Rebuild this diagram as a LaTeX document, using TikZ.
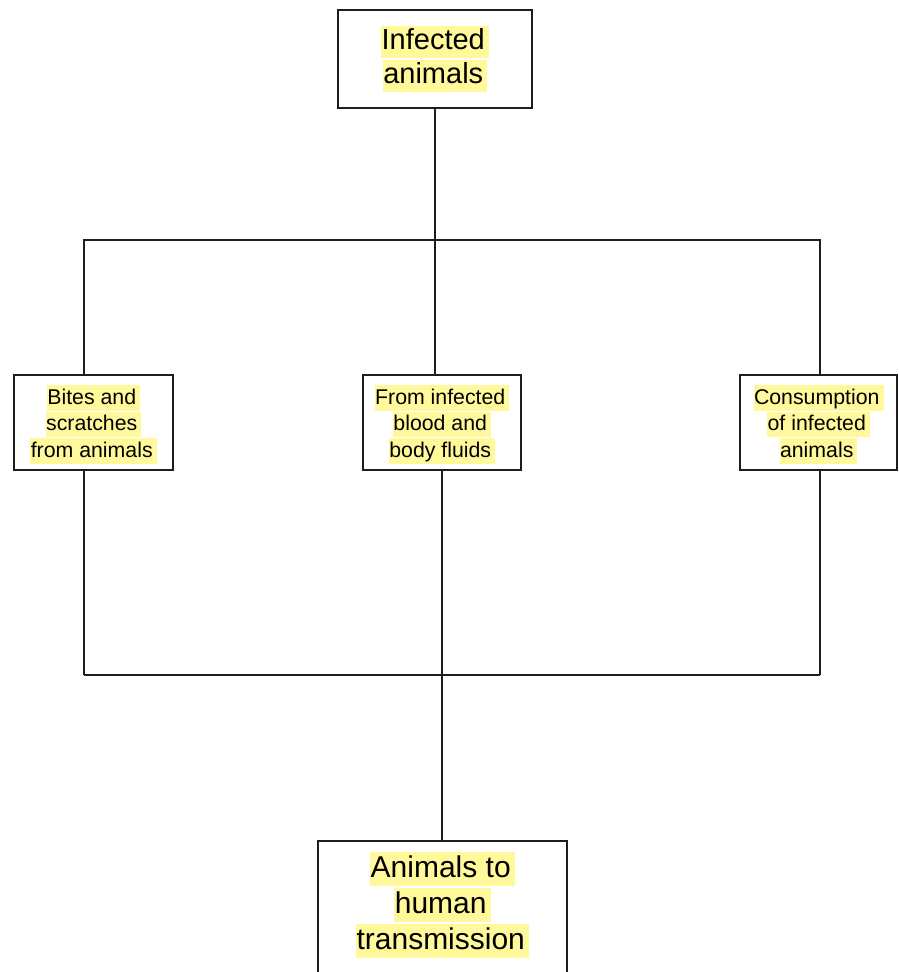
\documentclass[tikz,border=0pt]{standalone}
\usepackage{fontspec}
\setmainfont{Liberation Sans}
\usepackage{xcolor}
\definecolor{hl}{HTML}{FFF99C}
\definecolor{ln}{HTML}{1E1E1E}
\setlength{\fboxsep}{0pt}
\newcommand{\hlline}[1]{\colorbox{hl}{\rule[-0.25\baselineskip]{0pt}{0.96\baselineskip}\kern0.5pt#1\kern4pt}}
\begin{document}
\begin{tikzpicture}[x=1pt,y=-1pt,
  box/.style={draw=ln, line width=1.5pt, fill=white, inner sep=0pt, align=center},
  txt/.style={inner sep=0pt, align=center},
  conn/.style={draw=ln, line width=1.4pt},
  thickconn/.style={draw=ln, line width=2.2pt}]
\clip (0,0) rectangle (898,972);
\fill[white] (0,0) rectangle (898,972);
% boxes
\node[box, minimum width=194pt, minimum height=98pt,
  font=\fontsize{29}{34}\selectfont] (top) at (435,59)
  {\hlline{Infected}\\\hlline{animals}};
\node[box, minimum width=159pt, minimum height=95pt] (left) at (93.5,422.5) {};
\node[txt, font=\fontsize{21.3}{26.5}\selectfont] (lefttext) at (93.5,424.5)
  {\hlline{Bites and}\\\hlline{scratches}\\\hlline{from animals}};
\node[box, minimum width=158pt, minimum height=95pt] (mid) at (442,422.5) {};
\node[txt, font=\fontsize{21.3}{26.5}\selectfont] (midtext) at (442,424.5)
  {\hlline{From infected}\\\hlline{blood and}\\\hlline{body fluids}};
\node[box, minimum width=157pt, minimum height=95pt] (right) at (818.5,422.5) {};
\node[txt, font=\fontsize{21.3}{26.5}\selectfont] (righttext) at (818.5,424.5)
  {\hlline{Consumption}\\\hlline{of infected}\\\hlline{animals}};
\node[box, minimum width=249pt, minimum height=170pt, anchor=north] (hum) at (442.5,840) {};
\node[txt, font=\fontsize{30}{36}\selectfont] (humtext) at (442.5,905)
  {\hlline{Animals to}\\\hlline{human}\\\hlline{transmission}};
% junction coordinates
\coordinate (lt) at (84,240);
\coordinate (rt) at (820,240);
\coordinate (lb) at (84,675);
\coordinate (rb) at (820,675);
\coordinate (mb) at (442,675);
% connectors
\draw[thickconn] (top.south) -- (top.south |- mid.north);
\draw[conn] (left.north -| lt) -- (lt) -- (rt) -- (right.north -| rt);
\draw[conn] (left.south -| lb) -- (lb);
\draw[conn] (right.south -| rb) -- (rb);
\draw[thickconn] (lb) -- (rb);
\draw[conn] (mid.south -| mb) -- (hum.north -| mb);
\end{tikzpicture}
\end{document}
